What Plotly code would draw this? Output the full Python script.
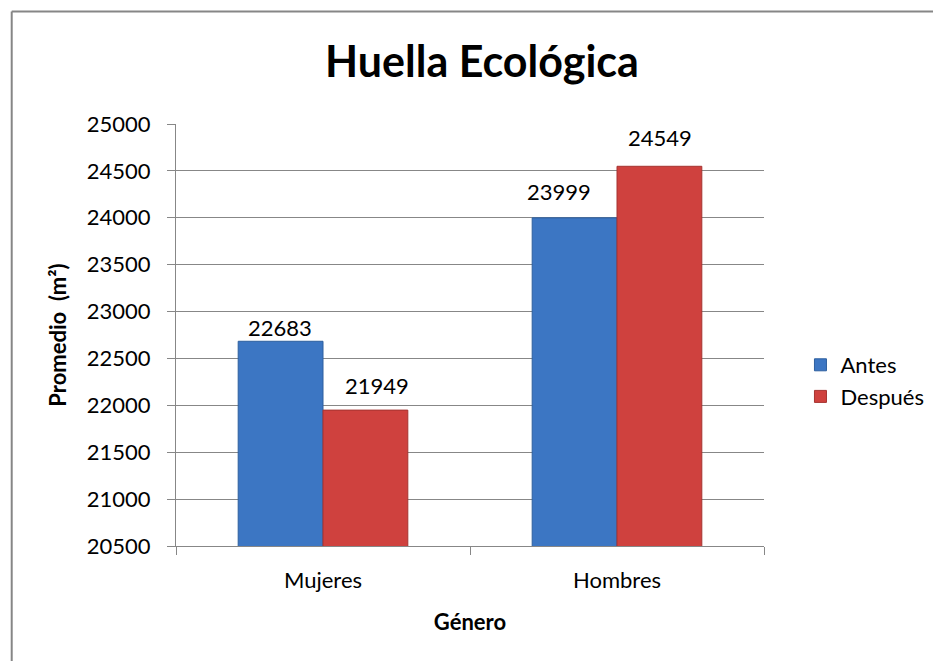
import plotly.graph_objects as go

# data
generos = ["Mujeres", "Hombres"]
antes = [22683, 23999]
despues = [21949, 24549]

font_family = "Lato, 'Open Sans', Arial"
grid_color = "#878787"

fig = go.Figure()
fig.add_trace(go.Bar(
    x=generos, y=antes, name="Antes",
    marker=dict(color="#3C76C3", line=dict(color="#2D5F9E", width=1)),
))
fig.add_trace(go.Bar(
    x=generos, y=despues, name="Después",
    marker=dict(color="#CF413E", line=dict(color="#A53330", width=1)),
))

# value labels: Excel nudges a couple of them sideways to avoid overlap
label_nudge = {  # (series, category) -> (xshift, yshift) in px
    ("Antes", "Mujeres"): (-43, 14), ("Después", "Mujeres"): (54, 25),
    ("Antes", "Hombres"): (-58, 26), ("Después", "Hombres"): (43, 29),
}
annotations = []
for name, vals in [("Antes", antes), ("Después", despues)]:
    for g, v in zip(generos, vals):
        dx, dy = label_nudge[(name, g)]
        annotations.append(dict(
            x=g, y=v, xref="x", yref="y", text=str(v), showarrow=False,
            xshift=dx, yshift=dy, yanchor="middle",
            font=dict(size=22, color="black")
        ))

# page body adds an 8px margin, so the figure is laid out 8px up/left
fig.update_layout(
    width=933, height=653,
    margin=dict(l=168, r=169, t=116, b=115),
    paper_bgcolor="white", plot_bgcolor="white",
    font=dict(family=font_family, size=22, color="black"),
    title=dict(text="<b>Huella Ecológica</b>", x=474 / 933, xanchor="center",
               y=1 - 54 / 653, yanchor="middle",
               font=dict(size=43, family=font_family)),
    barmode="group", bargap=0.423, bargroupgap=0,
    legend=dict(x=1.062, xanchor="left", y=0.391, yanchor="middle",
                font=dict(size=22), tracegroupgap=0, itemwidth=30),
    annotations=annotations,
    # chart frame: only the left and top edges are visible in the crop
    shapes=[
        dict(type="line", xref="paper", yref="paper", x0=-0.2794, x1=-0.2794,
             y0=1.2666, y1=-0.4, line=dict(color="#868686", width=2)),
        dict(type="line", xref="paper", yref="paper", x0=-0.2794, x1=1.4,
             y0=1.2666, y1=1.2666, line=dict(color="#868686", width=2)),
    ],
)

fig.update_yaxes(
    range=[20500, 25000], dtick=500, tickformat="d",
    showgrid=True, gridcolor=grid_color, gridwidth=1,
    showline=True, linecolor=grid_color, linewidth=1,
    ticks="outside", ticklen=8, tickcolor=grid_color,
    ticklabelstandoff=12, zeroline=False,
    title=dict(text="<b>Promedio  (m²)</b>", standoff=14, font=dict(size=22))
)
fig.update_xaxes(
    showline=True, linecolor=grid_color, linewidth=1,
    ticks="outside", ticklen=8, tickcolor=grid_color, tickson="boundaries",
    ticklabelstandoff=15,
    title=dict(text="<b>Género</b>", standoff=22, font=dict(size=22))
)

fig.write_html("out.html")
